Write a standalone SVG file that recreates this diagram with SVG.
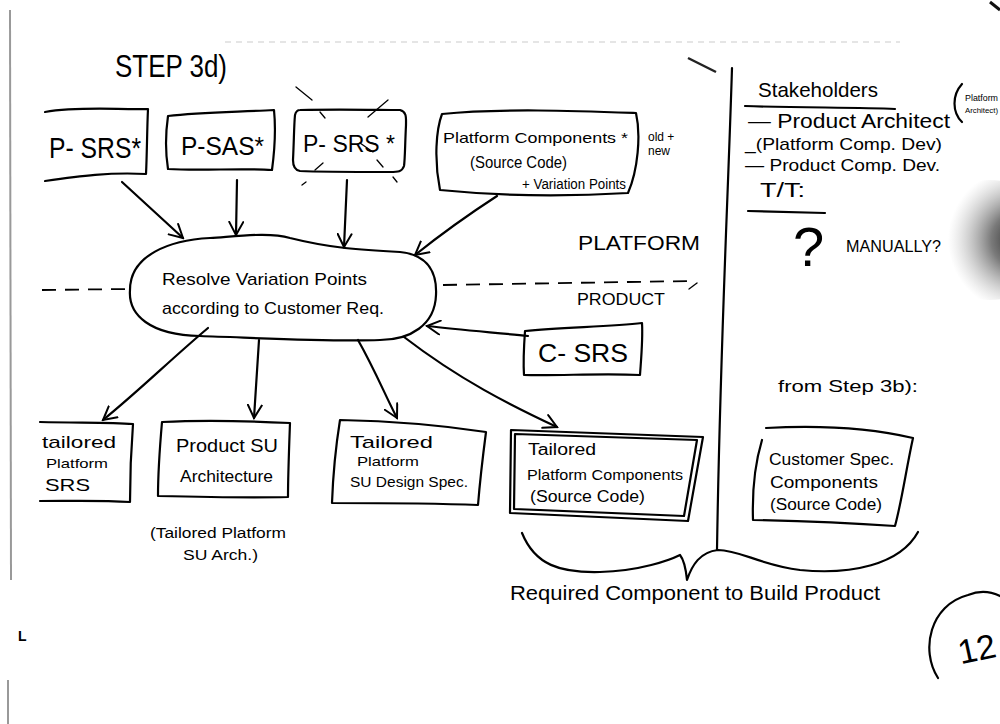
<svg xmlns="http://www.w3.org/2000/svg" width="1000" height="724" viewBox="0 0 1000 724">
<defs>
<marker id="ah" viewBox="0 0 16 16" refX="14" refY="8" markerWidth="16" markerHeight="16" markerUnits="userSpaceOnUse" orient="auto">
<path d="M1,1 L14,8 L1,15" fill="none" stroke="#000" stroke-width="2" stroke-linecap="round"/>
</marker>
<radialGradient id="smudge" cx="0.75" cy="0.5" r="0.6">
<stop offset="0" stop-color="#111" stop-opacity="0.95"/>
<stop offset="0.4" stop-color="#333" stop-opacity="0.65"/>
<stop offset="1" stop-color="#999" stop-opacity="0"/>
</radialGradient>
<style>
.s{fill:none;stroke:#000;stroke-width:2.2;stroke-linecap:round;stroke-linejoin:round}
.thin{fill:none;stroke:#000;stroke-width:1.3;stroke-linecap:round}
.dash{fill:none;stroke:#000;stroke-width:1.8;stroke-dasharray:14 9}
.grey{fill:none;stroke:#999;stroke-width:2}
.t{font-family:"Liberation Sans",Arial,sans-serif;fill:#000}
</style>
</defs>
<rect width="1000" height="724" fill="#fff"/>

<!-- scan artefacts -->
<g id="scan">
<path class="grey" d="M10,10 L11,580"/>
<path class="grey" d="M8,680 L8,724" stroke="#bbb"/>
<path d="M225,42 L900,42" stroke="#ccc" stroke-width="1.2" stroke-dasharray="6 5"/>
<path d="M688,58 L716,72" stroke="#222" stroke-width="2.5"/>
<path d="M990,2 L1000,10" stroke="#111" stroke-width="3"/>
<ellipse cx="990" cy="240" rx="60" ry="60" fill="url(#smudge)"/>
</g>

<text class="t" x="115" y="77" font-size="32" textLength="112" lengthAdjust="spacingAndGlyphs">STEP 3d)</text>

<g id="p-srs-1">
<path class="s" d="M45,112 C80,106 120,110 148,109 C147,130 147,155 146,174 C110,172 80,176 45,181"/>
<text class="t" x="49" y="158" font-size="30" textLength="92" lengthAdjust="spacingAndGlyphs">P- SRS*</text>
</g>
<g id="p-sas">
<path class="s" d="M168,116 C200,112 240,112 274,110 C276,130 274,155 272,170 C240,168 200,171 168,169 C165,150 166,130 168,116 Z"/>
<text class="t" x="181" y="155" font-size="26" textLength="83" lengthAdjust="spacingAndGlyphs">P-SAS*</text>
</g>
<g id="p-srs-2">
<path class="s" d="M300,110 C340,109 380,110 400,110 C407,112 406,118 406,125 C405,145 405,160 404,166 C402,172 398,172 390,172 C350,172 320,172 300,171 C294,170 293,165 293,160 C294,140 294,125 295,115 C296,111 298,110 300,110 Z"/>
<text class="t" x="303" y="152" font-size="24" textLength="92" lengthAdjust="spacingAndGlyphs">P- SRS *</text>
<path class="thin" d="M296,87 L312,100 M320,112 L325,118 M368,117 L388,100 M360,143 L373,152 M315,170 L323,163 M377,160 L383,167 M393,177 L397,182 M302,185 L306,182"/>
</g>
<g id="platform-components">
<path class="s" d="M442,114 C500,108 580,111 636,113 C641,135 638,170 628,193 C560,197 500,196 440,190 C434,160 436,130 442,114 Z"/>
<text class="t" x="443" y="143" font-size="15" textLength="185" lengthAdjust="spacingAndGlyphs">Platform Components *</text>
<text class="t" x="470" y="168" font-size="17" textLength="97" lengthAdjust="spacingAndGlyphs">(Source Code)</text>
<text class="t" x="522" y="189" font-size="14" textLength="104" lengthAdjust="spacingAndGlyphs">+ Variation Points</text>
<text class="t" x="648" y="141" font-size="12">old +</text>
<text class="t" x="648" y="155" font-size="12">new</text>
</g>

<g id="resolve">
<path class="s" d="M130,290 C130,255 170,240 210,238 C240,236 270,232 290,238 C330,248 360,250 400,252 C430,255 437,275 436,295 C435,325 410,340 380,340 C330,342 260,338 200,336 C150,335 128,315 130,290 Z"/>
<text class="t" x="162" y="285" font-size="17" textLength="205" lengthAdjust="spacingAndGlyphs">Resolve Variation Points</text>
<text class="t" x="162" y="314" font-size="17" textLength="222" lengthAdjust="spacingAndGlyphs">according to Customer Req.</text>
</g>

<g id="divider">
<path class="dash" d="M42,290 L128,289"/>
<path class="dash" d="M443,285 L690,281"/>
<path class="thin" d="M689,289 L697,283"/>
<text class="t" x="578" y="250" font-size="20" textLength="122" lengthAdjust="spacingAndGlyphs">PLATFORM</text>
<text class="t" x="577" y="305" font-size="17" textLength="88" lengthAdjust="spacingAndGlyphs">PRODUCT</text>
<path class="s" d="M732,68 C728,200 720,350 717,550"/>
</g>

<g id="c-srs">
<path class="s" d="M525,331 C560,327 610,327 642,323 C643,340 641,360 640,375 C600,373 560,376 524,375 C523,360 524,345 525,331 Z"/>
<text class="t" x="538" y="362" font-size="26" textLength="90" lengthAdjust="spacingAndGlyphs">C- SRS</text>
</g>

<g id="connectors">
<path class="s" d="M122,182 L183,238" marker-end="url(#ah)"/>
<path class="s" d="M237,180 L236,235" marker-end="url(#ah)"/>
<path class="s" d="M347,180 L344,247" marker-end="url(#ah)"/>
<path class="s" d="M497,196 C460,220 440,235 415,255" marker-end="url(#ah)"/>
<path class="s" d="M528,336 C500,333 460,330 427,326" marker-end="url(#ah)"/>
<path class="s" d="M208,328 C170,360 140,390 103,420" marker-end="url(#ah)"/>
<path class="s" d="M259,340 L254,418" marker-end="url(#ah)"/>
<path class="s" d="M358,340 C375,370 385,395 397,418" marker-end="url(#ah)"/>
<path class="s" d="M404,337 C460,380 510,405 557,427" marker-end="url(#ah)"/>
</g>

<g id="tailored-srs">
<path class="s" d="M40,422 C80,423 110,422 133,424 C131,450 130,480 130,502 C100,500 70,501 40,501"/>
<text class="t" x="42" y="448" font-size="17" textLength="74" lengthAdjust="spacingAndGlyphs">tailored</text>
<text class="t" x="46" y="468" font-size="13" textLength="62" lengthAdjust="spacingAndGlyphs">Platform</text>
<text class="t" x="45" y="491" font-size="17" textLength="45" lengthAdjust="spacingAndGlyphs">SRS</text>
</g>
<g id="product-su">
<path class="s" d="M162,422 C200,420 250,421 290,423 C289,450 288,475 288,497 C250,498 200,497 158,496 C158,470 160,445 162,422 Z"/>
<text class="t" x="176" y="452" font-size="18" textLength="102" lengthAdjust="spacingAndGlyphs">Product SU</text>
<text class="t" x="180" y="482" font-size="16" textLength="93" lengthAdjust="spacingAndGlyphs">Architecture</text>
<text class="t" x="150" y="538" font-size="14" textLength="136" lengthAdjust="spacingAndGlyphs">(Tailored Platform</text>
<text class="t" x="183" y="560" font-size="14" textLength="75" lengthAdjust="spacingAndGlyphs">SU Arch.)</text>
</g>
<g id="tailored-su-design">
<path class="s" d="M340,420 C390,421 440,425 486,432 C483,455 480,480 478,505 C430,503 380,503 332,503 C333,475 336,445 340,420 Z"/>
<text class="t" x="350" y="448" font-size="17" textLength="83" lengthAdjust="spacingAndGlyphs">Tailored</text>
<text class="t" x="357" y="466" font-size="13" textLength="62" lengthAdjust="spacingAndGlyphs">Platform</text>
<text class="t" x="350" y="487" font-size="14" textLength="118" lengthAdjust="spacingAndGlyphs">SU Design Spec.</text>
</g>
<g id="tailored-components">
<path class="s" d="M511,430 L703,437 L688,521 L510,513 Z" stroke-width="3"/>
<path class="s" d="M515,434 L697,440 L684,516 L514,509 Z" stroke-width="1.6"/>
<text class="t" x="528" y="455" font-size="16" textLength="68" lengthAdjust="spacingAndGlyphs">Tailored</text>
<text class="t" x="527" y="480" font-size="15" textLength="156" lengthAdjust="spacingAndGlyphs">Platform Components</text>
<text class="t" x="530" y="502" font-size="16" textLength="115" lengthAdjust="spacingAndGlyphs">(Source Code)</text>
</g>
<g id="customer-components">
<path class="s" d="M766,428 C820,425 870,428 913,438 C906,470 902,500 895,526 C850,523 800,521 753,520 C752,490 756,460 762,440"/>
<text class="t" x="769" y="465" font-size="17" textLength="125" lengthAdjust="spacingAndGlyphs">Customer Spec.</text>
<text class="t" x="770" y="488" font-size="16" textLength="108" lengthAdjust="spacingAndGlyphs">Components</text>
<text class="t" x="770" y="510" font-size="16" textLength="112" lengthAdjust="spacingAndGlyphs">(Source Code)</text>
</g>
<text class="t" x="778" y="392" font-size="17" textLength="140" lengthAdjust="spacingAndGlyphs">from Step 3b):</text>

<g id="brace">
<path class="s" d="M522,533 C535,565 560,573 600,572 C640,571 670,560 680,555 C684,560 686,570 687,580 C692,565 700,552 718,550 C740,550 760,565 800,570 C850,575 900,565 918,532"/>
<text class="t" x="510" y="600" font-size="20" textLength="370" lengthAdjust="spacingAndGlyphs">Required Component to Build Product</text>
</g>

<g id="stakeholders">
<text class="t" x="758" y="97" font-size="21" textLength="120" lengthAdjust="spacingAndGlyphs">Stakeholders</text>
<path class="s" d="M745,106 C800,108 860,107 895,109"/>
<text class="t" x="748" y="128" font-size="20" textLength="202" lengthAdjust="spacingAndGlyphs">— Product Architect</text>
<text class="t" x="745" y="150" font-size="17" textLength="197" lengthAdjust="spacingAndGlyphs">_(Platform Comp. Dev)</text>
<text class="t" x="745" y="171" font-size="16" textLength="195" lengthAdjust="spacingAndGlyphs">— Product Comp. Dev.</text>
<text class="t" x="760" y="197" font-size="20" textLength="45" lengthAdjust="spacingAndGlyphs">T/T:</text>
<path class="s" d="M748,211 L825,213"/>
<text class="t" x="793" y="266" font-size="56">?</text>
<text class="t" x="846" y="252" font-size="17" textLength="95" lengthAdjust="spacingAndGlyphs">MANUALLY?</text>
<path class="s" d="M962,84 C952,95 952,112 962,122"/>
<text class="t" x="965" y="101" font-size="9" textLength="33" lengthAdjust="spacingAndGlyphs">Platform</text>
<text class="t" x="965" y="113" font-size="8" textLength="33" lengthAdjust="spacingAndGlyphs">Architect)</text>
</g>

<g id="page-number">
<path class="s" d="M938,678 C920,650 930,605 968,595 C980,590 992,592 1000,596" stroke-width="1.8"/>
<text class="t" x="957" y="662" font-size="34" transform="rotate(-12 970 645)">12</text>
</g>
<text class="t" x="18" y="641" font-size="14" font-weight="bold">L</text>
</svg>
